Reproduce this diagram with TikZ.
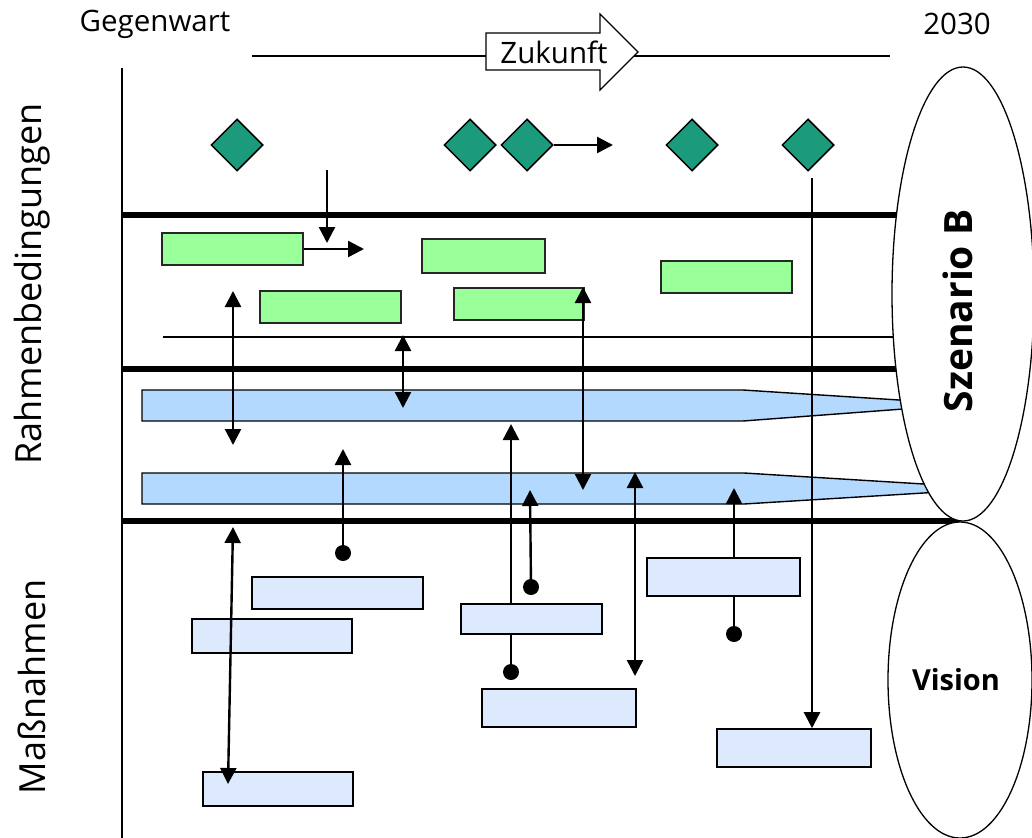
\documentclass[tikz,border=0pt]{standalone}
\usepackage{fontspec}
\setmainfont{Open Sans}
\usetikzlibrary{arrows.meta,shapes.geometric}
\definecolor{dgreen}{HTML}{1B9B7B}
\definecolor{lgreen}{HTML}{99FF99}
\definecolor{barblue}{HTML}{B3D9FF}
\definecolor{boxblue}{HTML}{DDEAFD}
\tikzset{
  thinln/.style={line width=2pt},
  thickln/.style={line width=6pt},
  arr/.style={line width=2.4pt,-{Triangle[length=16pt,width=16pt]}},
  darr/.style={line width=2.4pt,{Triangle[length=16pt,width=16pt]}-{Triangle[length=16pt,width=16pt]}},
  plainln/.style={line width=2.4pt},
  diam/.style={diamond,draw,fill=dgreen,minimum width=52pt,minimum height=52pt,inner sep=0pt,line width=1.5pt},
  gbox/.style={draw=black!85,fill=lgreen,line width=1.6pt,inner sep=0pt},
  mbox/.style={draw=black,fill=boxblue,line width=1.6pt,inner sep=0pt},
  bar/.style={draw=black,fill=barblue,line width=1.4pt},
  oval/.style={ellipse,draw,fill=white,line width=1.3pt,inner sep=0pt},
  dotn/.style={circle,fill=black,minimum size=16pt,inner sep=0pt},
  lbl/.style={font=\fontsize{29.5}{32}\selectfont,inner sep=0pt},
  side/.style={font=\fontsize{36}{38}\selectfont,inner sep=0pt,rotate=90},
}
\begin{document}
\begin{tikzpicture}[x=1pt,y=-1pt]
\useasboundingbox (0,0) rectangle (1032,837);
% header
\node[lbl] (gegen) at (155,24) {Gegenwart};
\node[lbl] (y2030) at (957,24) {2030};
\coordinate (tlA) at (252,56);
\coordinate (tlB) at (890,56);
\draw[thinln] (tlA) -- (tlB);
\draw[line width=1.3pt,fill=white] (486,33) -- (600,33) -- (600,14) -- (638,52) -- (600,90) -- (600,70) -- (486,70) -- cycle;
\node[lbl] (zuk) at (554,52) {Zukunft};
% side labels
\node[side] (rahmen) at (32,284) {Rahmenbedingungen};
\node[side] (mass) at (32,687) {Maßnahmen};
% frame lines
\coordinate (vtop) at (122,68);
\coordinate (vbot) at (122,840);
\draw[thinln] (vtop) -- (vbot);
\draw[thickln] (122,215) -- (960,215);
\draw[thickln] (122,369) -- (960,369);
\draw[thickln] (122,521) -- (960,521);
\draw[line width=1.8pt] (163,337) -- (960,337);
% bars
\draw[bar] (142,390) -- (743,390) -- (930,402) -- (930,407) -- (743,421) -- (142,421) -- cycle;
\draw[bar] (142,473) -- (744,473) -- (940,485) -- (940,492) -- (744,504) -- (142,504) -- cycle;
% ellipses
\node[oval,minimum width=142pt,minimum height=454pt] (szb) at (963,294) {};
\node[oval,minimum width=144pt,minimum height=316pt] (vis) at (960,680) {};
\node[font=\fontsize{39}{42}\selectfont\bfseries,rotate=90,inner sep=0pt] (szbt) at (958,311) {Szenario B};
\node[font=\fontsize{29}{32}\selectfont\bfseries,inner sep=0pt] (vist) at (956,680) {Vision};
% diamonds
\node[diam] (d1) at (237,145) {};
\node[diam] (d2) at (470,145) {};
\node[diam] (d3) at (527,145) {};
\node[diam] (d4) at (692,145) {};
\node[diam] (d5) at (808,145) {};
% green boxes
\node[gbox,minimum width=141pt,minimum height=32pt] (g1) at (232.5,249) {};
\node[gbox,minimum width=141pt,minimum height=32pt] (g2) at (330.5,307) {};
\node[gbox,minimum width=123pt,minimum height=34pt] (g3) at (483.5,256) {};
\node[gbox,minimum width=130pt,minimum height=32pt] (g4) at (519,304) {};
\node[gbox,minimum width=131pt,minimum height=32pt] (g5) at (726.5,277) {};
% measure boxes
\node[mbox,minimum width=171pt,minimum height=32pt] (m1) at (337.5,593) {};
\node[mbox,minimum width=160pt,minimum height=34pt] (m2) at (272,636) {};
\node[mbox,minimum width=141pt,minimum height=30pt] (m3) at (531.5,619) {};
\node[mbox,minimum width=153pt,minimum height=38pt] (m4) at (723.5,577) {};
\node[mbox,minimum width=154pt,minimum height=38pt] (m5) at (559,708) {};
\node[mbox,minimum width=154pt,minimum height=38pt] (m6) at (794,748) {};
\node[mbox,minimum width=150pt,minimum height=34pt] (m7) at (278,789) {};
% dots
\node[dotn] (pB) at (343,553) {};
\node[dotn] (pC) at (511,672) {};
\node[dotn] (pD) at (531,587) {};
\node[dotn] (pF) at (734,634) {};
% coordinates for free ends
\coordinate (d3e) at (613,145);
\coordinate (vA) at (327,170);
\coordinate (vB) at (327,243);
\coordinate (g1e) at (364,249);
\coordinate (d5s) at (812,178);
\coordinate (da1a) at (233,291);
\coordinate (da1b) at (233,445);
\coordinate (da2a) at (403,335);
\coordinate (da2b) at (403,408);
\coordinate (da3a) at (583,287);
\coordinate (da3b) at (583,490);
\coordinate (aAa) at (233,527);
\coordinate (aAb) at (228,784);
\coordinate (aB) at (343,449);
\coordinate (aC) at (511,424);
\coordinate (aD) at (530,490);
\coordinate (aEa) at (635,472);
\coordinate (aEb) at (635,676);
\coordinate (aF) at (734,488);
% connectors
\draw[arr] (d3.east) -- (d3e);
\draw[arr] (vA) -- (vB);
\draw[arr] (g1.east) -- (g1e);
\draw[arr] (d5s) -- (d5s |- m6.north);
\draw[darr] (da1a) -- (da1b);
\draw[darr] (da2a) -- (da2b);
\draw[darr] (da3a) -- (da3b);
\draw[darr] (aAa) -- (aAb);
\draw[arr] (pB.center) -- (aB);
\draw[plainln] (pC.center) -- (pC |- m3.south);
\draw[arr] (pC |- m3.north) -- (aC);
\draw[arr] (pD.center) -- (aD);
\draw[darr] (aEa) -- (aEb);
\draw[plainln] (pF.center) -- (pF |- m4.south);
\draw[arr] (pF |- m4.north) -- (aF);
\end{tikzpicture}
\end{document}
